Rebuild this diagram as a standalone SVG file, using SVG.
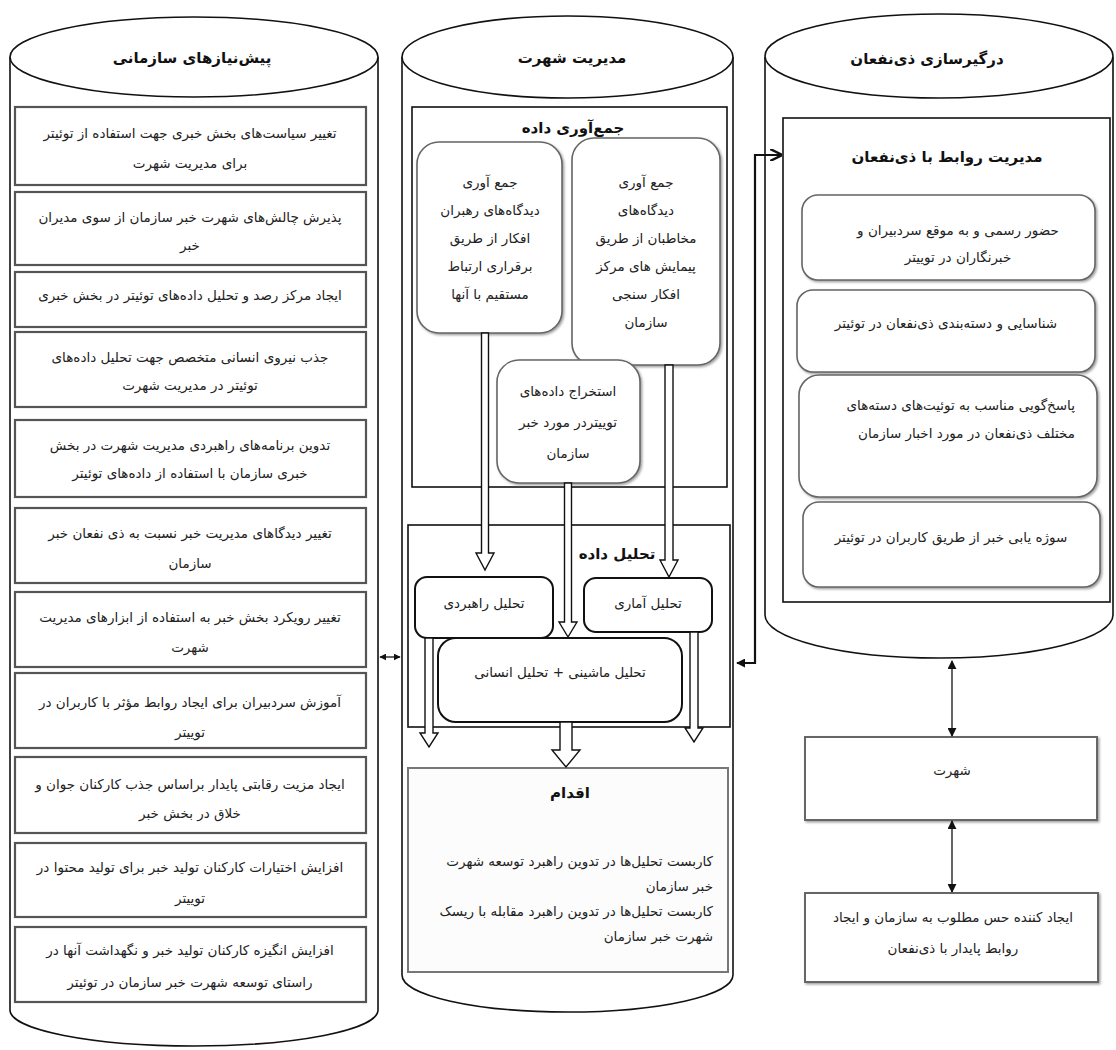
<svg xmlns="http://www.w3.org/2000/svg" width="1116" height="1050" viewBox="0 0 1116 1050">
<style>
.t{font-family:'DejaVu Sans',sans-serif;font-size:13.5px;fill:#222;text-anchor:middle;direction:rtl}
.h{font-weight:bold;font-size:15px;fill:#111}
.r{text-anchor:start}
.cyl{fill:#fff;stroke:#111;stroke-width:1.6}
.lbox{fill:#fff;stroke:#555;stroke-width:2.2}
.frame{fill:none;stroke:#111;stroke-width:1.6}
.rb{fill:#fff;stroke:#666;stroke-width:1.6}
.rbk{fill:#fff;stroke:#111;stroke-width:2}
.ba{fill:#fff;stroke:#111;stroke-width:1.4}
.con{fill:none;stroke:#111;stroke-width:2.2}
.thin{fill:none;stroke:#111;stroke-width:1.3}
</style>
<defs>
<filter id="sh" x="-5%" y="-5%" width="112%" height="115%">
<feDropShadow dx="1.5" dy="1.5" stdDeviation="1" flood-color="#777" flood-opacity="0.7"/>
</filter>
<marker id="ah" viewBox="0 0 10 10" refX="9" refY="5" markerUnits="userSpaceOnUse" markerWidth="9" markerHeight="9" orient="auto-start-reverse">
<path d="M0,0 L10,5 L0,10 z" fill="#111"/>
</marker>
<marker id="as" viewBox="0 0 10 10" refX="9" refY="5" markerUnits="userSpaceOnUse" markerWidth="7" markerHeight="7" orient="auto-start-reverse">
<path d="M0,0 L10,5 L0,10 z" fill="#111"/>
</marker>
<marker id="ao" viewBox="0 0 10 10" refX="9" refY="5" markerUnits="userSpaceOnUse" markerWidth="12" markerHeight="12" orient="auto-start-reverse">
<path d="M0,0 L10,5 L0,10" fill="none" stroke="#111" stroke-width="2"/>
</marker>
</defs>
<rect width="1116" height="1050" fill="#fff"/>

<!-- Left cylinder -->
<g id="col-left">
<path class="cyl" d="M10,57 V1010 A184,36 0 0 0 378,1010 V57"/>
<ellipse class="cyl" cx="194" cy="57" rx="184" ry="40"/>
<text class="t h" x="192" y="63">پیش‌نیازهای سازمانی</text>
</g>
<g id="l1"><rect class="lbox" x="15" y="107" width="351" height="78"/>
<text class="t" x="190" y="138">تغییر سیاست‌های بخش خبری جهت استفاده از توئیتر</text>
<text class="t" x="190" y="168">برای مدیریت شهرت</text></g>
<g id="l2"><rect class="lbox" x="15" y="192" width="351" height="73"/>
<text class="t" x="190" y="222">پذیرش چالش‌های شهرت خبر سازمان از سوی مدیران</text>
<text class="t" x="190" y="250">خبر</text></g>
<g id="l3"><rect class="lbox" x="15" y="272" width="351" height="55"/>
<text class="t" x="190" y="300">ایجاد مرکز رصد و تحلیل داده‌های توئیتر در بخش خبری</text></g>
<g id="l4"><rect class="lbox" x="15" y="332" width="351" height="75"/>
<text class="t" x="190" y="362">جذب نیروی انسانی متخصص جهت تحلیل داده‌های</text>
<text class="t" x="190" y="390">توئیتر در مدیریت شهرت</text></g>
<g id="l5"><rect class="lbox" x="15" y="420" width="351" height="77"/>
<text class="t" x="190" y="450">تدوین برنامه‌های راهبردی مدیریت شهرت در بخش</text>
<text class="t" x="190" y="478">خبری سازمان با استفاده از داده‌های توئیتر</text></g>
<g id="l6"><rect class="lbox" x="15" y="508" width="351" height="75"/>
<text class="t" x="190" y="538">تغییر دیدگاهای مدیریت خبر نسبت به ذی نفعان خبر</text>
<text class="t" x="190" y="568">سازمان</text></g>
<g id="l7"><rect class="lbox" x="15" y="592" width="351" height="75"/>
<text class="t" x="190" y="622">تغییر رویکرد بخش خبر به استفاده از ابزارهای مدیریت</text>
<text class="t" x="190" y="652">شهرت</text></g>
<g id="l8"><rect class="lbox" x="15" y="673" width="351" height="75"/>
<text class="t" x="190" y="707">آموزش سردبیران برای ایجاد روابط مؤثر با کاربران در</text>
<text class="t" x="190" y="737">توییتر</text></g>
<g id="l9"><rect class="lbox" x="15" y="757" width="351" height="76"/>
<text class="t" x="190" y="789">ایجاد مزیت رقابتی پایدار براساس جذب کارکنان جوان و</text>
<text class="t" x="190" y="818">خلاق در بخش خبر</text></g>
<g id="l10"><rect class="lbox" x="15" y="843" width="351" height="74"/>
<text class="t" x="190" y="872">افزایش اختیارات کارکنان تولید خبر برای تولید محتوا در</text>
<text class="t" x="190" y="903">توییتر</text></g>
<g id="l11"><rect class="lbox" x="15" y="927" width="351" height="75"/>
<text class="t" x="190" y="955">افزایش انگیزه کارکنان تولید خبر و نگهداشت آنها در</text>
<text class="t" x="190" y="987">راستای توسعه شهرت خبر سازمان در توئیتر</text></g>

<!-- Middle cylinder -->
<g id="col-mid">
<path class="cyl" d="M402,57 V975 A165.5,37 0 0 0 733,975 V57"/>
<ellipse class="cyl" cx="567.5" cy="57" rx="165.5" ry="41"/>
<text class="t h" x="572" y="63">مدیریت شهرت</text>
</g>
<g id="collect">
<rect class="frame" x="412" y="107" width="315" height="380"/>
<text class="t h" x="573" y="133">جمع‌آوری داده</text>
</g>
<g id="m-leaders"><rect class="rb" filter="url(#sh)" x="417" y="142" width="145" height="191" rx="22"/>
<text class="t" x="490" y="187">جمع آوری</text>
<text class="t" x="490" y="215">دیدگاه‌های رهبران</text>
<text class="t" x="490" y="243">افکار از طریق</text>
<text class="t" x="490" y="271">برقراری ارتباط</text>
<text class="t" x="490" y="299">مستقیم با آنها</text></g>
<g id="m-audience"><rect class="rb" filter="url(#sh)" x="572" y="138" width="148" height="227" rx="22"/>
<text class="t" x="646" y="187">جمع آوری</text>
<text class="t" x="646" y="215">دیدگاه‌های</text>
<text class="t" x="646" y="243">مخاطبان از طریق</text>
<text class="t" x="646" y="271">پیمایش های مرکز</text>
<text class="t" x="646" y="299">افکار سنجی</text>
<text class="t" x="646" y="327">سازمان</text></g>
<g id="m-extract"><rect class="rb" filter="url(#sh)" x="497" y="360" width="143" height="123" rx="22"/>
<text class="t" x="568" y="396">استخراج داده‌های</text>
<text class="t" x="568" y="427">توییتردر مورد خبر</text>
<text class="t" x="568" y="458">سازمان</text></g>

<g id="analysis">
<rect class="frame" x="408" y="525" width="322" height="202"/>
<text class="t h" x="617" y="559">تحلیل داده</text>
</g>
<g id="a-strategic"><rect class="rbk" x="415" y="577" width="138" height="61" rx="12"/>
<text class="t" x="484" y="608">تحلیل راهبردی</text></g>
<g id="a-stat"><rect class="rbk" x="584" y="578" width="128" height="54" rx="12"/>
<text class="t" x="648" y="608">تحلیل آماری</text></g>
<g id="a-machine"><rect class="rbk" x="438" y="638" width="244" height="84" rx="18"/>
<text class="t" x="560" y="677">تحلیل ماشینی + تحلیل انسانی</text></g>

<g id="action">
<rect x="408" y="768" width="320" height="204" fill="#fcfcfc" stroke="#777" stroke-width="2"/>
<text class="t h" x="570" y="798">اقدام</text>
<text class="t r" x="713" y="866">کاربست تحلیل‌ها در تدوین راهبرد توسعه شهرت</text>
<text class="t r" x="713" y="891">خبر سازمان</text>
<text class="t r" x="713" y="916">کاربست تحلیل‌ها در تدوین راهبرد مقابله با ریسک</text>
<text class="t r" x="713" y="941">شهرت خبر سازمان</text>
</g>

<!-- Right cylinder -->
<g id="col-right">
<path class="cyl" d="M765,57 V615 A174,43 0 0 0 1113,615 V57"/>
<ellipse class="cyl" cx="939" cy="56" rx="174" ry="42"/>
<text class="t h" x="927" y="64">درگیرسازی ذی‌نفعان</text>
</g>
<g id="relations">
<rect class="frame" x="783" y="118" width="327" height="484"/>
<text class="t h" x="947" y="162">مدیریت روابط با ذی‌نفعان</text>
</g>
<g id="r1"><rect class="rb" filter="url(#sh)" x="802" y="195" width="293" height="85" rx="16"/>
<text class="t" x="958" y="235">حضور رسمی و به موقع سردبیران و</text>
<text class="t" x="958" y="262">خبرنگاران در توییتر</text></g>
<g id="r2"><rect class="rb" filter="url(#sh)" x="797" y="290" width="298" height="82" rx="16"/>
<text class="t" x="946" y="328">شناسایی و دسته‌بندی ذی‌نفعان در توئیتر</text></g>
<g id="r3"><rect class="rb" filter="url(#sh)" x="799" y="375" width="298" height="122" rx="20"/>
<text class="t r" x="1075" y="410">پاسخ‌گویی مناسب به توئیت‌های دسته‌های</text>
<text class="t r" x="1075" y="438">مختلف ذی‌نفعان در مورد اخبار سازمان</text></g>
<g id="r4"><rect class="rb" filter="url(#sh)" x="803" y="502" width="297" height="85" rx="16"/>
<text class="t" x="951" y="542">سوژه یابی خبر از طریق کاربران در توئیتر</text></g>

<g id="fame"><rect x="805" y="737" width="292" height="83" fill="#fff" stroke="#666" stroke-width="2" filter="url(#sh)"/>
<text class="t" x="952" y="775">شهرت</text></g>
<g id="outcome"><rect x="805" y="893" width="293" height="89" fill="#fff" stroke="#666" stroke-width="2" filter="url(#sh)"/>
<text class="t" x="953" y="922">ایجاد کننده حس مطلوب به سازمان و ایجاد</text>
<text class="t" x="953" y="953">روابط پایدار با ذی‌نفعان</text></g>

<!-- Connectors -->
<g id="connectors">
<polygon class="ba" points="481.5,333 488.5,333 488.5,553 494,553 485,570 476,553 481.5,553"/>
<polygon class="ba" points="665,365 673,365 673,560 678,560 669,577 660,560 665,560"/>
<polygon class="ba" points="564.5,483 571.5,483 571.5,622 577,622 568,637 559,622 564.5,622"/>
<polygon class="ba" points="425,638 433,638 433,733 438,733 429,747 420,733 425,733"/>
<polygon class="ba" points="560,722 572,722 572,750 580,750 566,767 552,750 560,750"/>
<polygon class="ba" points="690,632 698,632 698,728 703,728 694,742 685,728 690,728"/>
<path class="con" d="M737,663 H755 V155 H781" marker-start="url(#ah)" marker-end="url(#ao)"/>
<line class="thin" stroke-width="1.6" x1="380" y1="657" x2="400" y2="657" marker-start="url(#as)" marker-end="url(#as)"/>
<line class="thin" x1="952" y1="661" x2="952" y2="736" marker-start="url(#ah)" marker-end="url(#ah)"/>
<line class="thin" x1="952" y1="821" x2="952" y2="892" marker-start="url(#ah)" marker-end="url(#ah)"/>
</g>
</svg>
